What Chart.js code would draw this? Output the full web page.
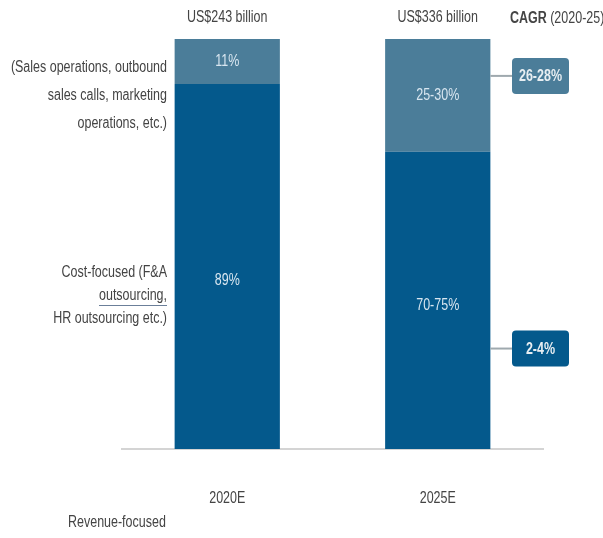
<!DOCTYPE html>
<html>
<head>
<meta charset="utf-8">
<script src="https://cdn.jsdelivr.net/npm/chart.js@4.4.1/dist/chart.umd.min.js"></script>
<style>
  html, body { margin: 0; background: #fff; }
  #wrap { width: 603px; height: 538px; position: relative; }
</style>
</head>
<body>
<div id="wrap"><canvas id="chart"></canvas></div>
<script>
  // -- data ---------------------------------------------------------------
  const categories = ["2020E", "2025E"];
  const totalLabels = ["US$243 billion", "US$336 billion"];
  const costShare = [89, 72.5];
  const revenueShare = [11, 27.5];
  const costLabels = ["89%", "70-75%"];
  const revenueLabels = ["11%", "25-30%"];
  const cagrRevenue = "26-28%";
  const cagrCost = "2-4%";

  const FONT = "'Liberation Sans', Arial, sans-serif";
  const SQUEEZE = 0.78; // narrow look, no condensed font installed
  const DARK = "#04598c";
  const LIGHT = "#4b7d99";
  const TEXT = "#444";

  // draws condensed text: squeeze horizontally around the anchor
  function txt(ctx, s, x, y, align, font, color) {
    ctx.save();
    ctx.font = font;
    ctx.fillStyle = color;
    ctx.textAlign = align;
    ctx.textBaseline = "middle";
    ctx.translate(x, y);
    ctx.scale(SQUEEZE, 1);
    ctx.fillText(s, 0, 0);
    const w = ctx.measureText(s).width * SQUEEZE;
    ctx.restore();
    return w;
  }

  // -- annotations drawn on top of the bars --------------------------------
  const annotate = {
    id: "annotate",
    afterDatasetsDraw(chart) {
      const { ctx, chartArea, scales } = chart;
      const y = scales.y;
      const x = scales.x;
      const costMeta = chart.getDatasetMeta(0);
      const revMeta = chart.getDatasetMeta(1);
      const f16 = `16px ${FONT}`;
      const seg = "#d8e6f0";

      // segment labels
      costMeta.data.forEach((el, i) => {
        txt(ctx, costLabels[i], el.x, y.getPixelForValue(i === 0 ? 41 : 35), "center", f16, seg);
      });
      revMeta.data.forEach((el, i) => {
        txt(ctx, revenueLabels[i], el.x, (el.y + el.base) / 2, "center", f16, seg);
      });

      // totals above bars, category labels below
      revMeta.data.forEach((el, i) => {
        txt(ctx, totalLabels[i], el.x, chartArea.top - 21, "center", f16, TEXT);
      });
      categories.forEach((c, i) => {
        txt(ctx, c, x.getPixelForValue(i), chartArea.bottom + 50, "center", f16, TEXT);
      });

      // CAGR header
      const w = txt(ctx, "CAGR ", 510, 19, "left", `bold 16px ${FONT}`, TEXT);
      txt(ctx, "(2020-25)", 510 + w, 19, "left", f16, TEXT);

      // CAGR boxes with connectors
      const barRight = revMeta.data[1].x + revMeta.data[1].width / 2;
      const boxes = [
        { text: cagrRevenue, value: 91, fill: LIGHT },
        { text: cagrCost, value: 24.5, fill: DARK },
      ];
      for (const b of boxes) {
        const cy = y.getPixelForValue(b.value);
        ctx.save();
        ctx.strokeStyle = "#9fa9ae";
        ctx.lineWidth = 2;
        ctx.beginPath();
        ctx.moveTo(barRight, cy);
        ctx.lineTo(512, cy);
        ctx.stroke();
        ctx.fillStyle = b.fill;
        ctx.beginPath();
        ctx.roundRect(512, cy - 18, 57, 36, 4);
        ctx.fill();
        ctx.restore();
        txt(ctx, b.text, 540.5, cy + 1, "center", `bold 16px ${FONT}`, "#e8eef2");
      }

      // left-hand descriptions
      const lx = 167;
      ["(Sales operations, outbound", "sales calls, marketing", "operations, etc.)"]
        .forEach((t, i) => txt(ctx, t, lx, 68 + i * 28, "right", f16, TEXT));
      ["Cost-focused (F&A", "outsourcing,", "HR outsourcing etc.)"]
        .forEach((t, i) => txt(ctx, t, lx, 273 + i * 23, "right", f16, TEXT));
      ctx.font = f16;
      const uw = ctx.measureText("outsourcing,").width * SQUEEZE;
      ctx.save();
      ctx.strokeStyle = "#6b7f99";
      ctx.lineWidth = 1;
      ctx.beginPath();
      ctx.moveTo(lx - uw, 305.5);
      ctx.lineTo(lx, 305.5);
      ctx.stroke();
      ctx.restore();

      txt(ctx, "Revenue-focused", 68, 523, "left", f16, TEXT);
    },
  };

  new Chart(document.getElementById("chart"), {
    type: "bar",
    data: {
      labels: categories,
      datasets: [
        { label: "Cost-focused", data: costShare, backgroundColor: DARK },
        { label: "Revenue-focused", data: revenueShare, backgroundColor: LIGHT },
      ],
    },
    options: {
      responsive: true,
      maintainAspectRatio: false,
      animation: false,
      barPercentage: 1,
      categoryPercentage: 0.5,
      layout: { padding: { left: 122, right: 60, top: 39, bottom: 89 } },
      plugins: { legend: { display: false }, tooltip: { enabled: false } },
      scales: {
        x: {
          stacked: true,
          grid: { display: false, drawTicks: false },
          border: { color: "#d4d4d4", width: 2 },
          ticks: { display: false },
        },
        y: { stacked: true, display: false, min: 0, max: 100 },
      },
    },
    plugins: [annotate],
  });
</script>
</body>
</html>
